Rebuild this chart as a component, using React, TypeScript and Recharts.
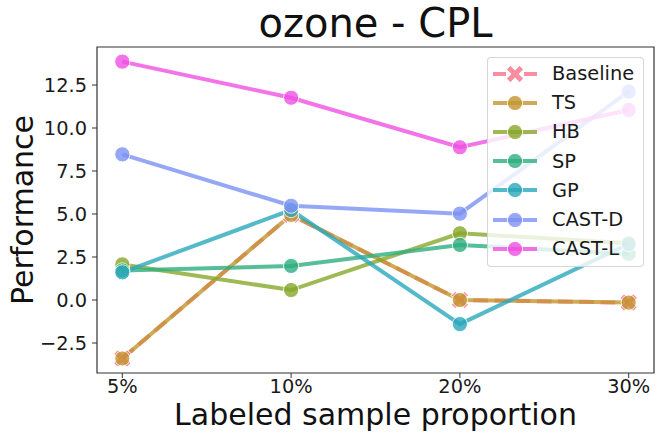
import React from "react";
import { CartesianGrid, Customized, Legend, Line, LineChart, ReferenceArea, XAxis, YAxis } from "recharts";

const categories = ["5%", "10%", "20%", "30%"];
const baseline = [-3.4, 4.95, 0.0, -0.15];
const ts = [-3.4, 4.95, 0.0, -0.15];
const hb = [2.07, 0.58, 3.88, 3.3];
const sp = [1.72, 1.98, 3.2, 2.68];
const gp = [1.61, 5.23, -1.4, 3.26];
const castD = [8.47, 5.48, 5.02, 12.11];
const castL = [13.86, 11.76, 8.88, 11.05];
const yTicks = [-2.5, 0, 2.5, 5, 7.5, 10, 12.5];

const series = [
  { key: "Baseline", values: baseline, color: "#f77189", marker: "x" },
  { key: "TS", values: ts, color: "#c3962f", marker: "o" },
  { key: "HB", values: hb, color: "#87a72a", marker: "o" },
  { key: "SP", values: sp, color: "#2eae80", marker: "o" },
  { key: "GP", values: gp, color: "#29a7bb", marker: "o" },
  { key: "CAST-D", values: castD, color: "#7c92f3", marker: "o" },
  { key: "CAST-L", values: castL, color: "#f050e4", marker: "o" },
];

const data = categories.map((c, i) => {
  const row: Record<string, number | string> = { x: i, label: c };
  series.forEach((s) => {
    row[s.key] = s.values[i];
  });
  return row;
});

const Y_MIN = -4.244;
const Y_MAX = 14.71;
const X_MIN = -0.15;
const X_MAX = 3.15;
const FONT = "'DejaVu Sans', sans-serif";
const ALPHA = 0.8;
const BASE_DASH = "14.8 6.4";

function xPath(a: number, w: number) {
  const p = [
    [-w, -a], [w, -a], [w, -w], [a, -w], [a, w], [w, w],
    [w, a], [-w, a], [-w, w], [-a, w], [-a, -w], [-w, -w],
  ];
  return "M" + p.map((q) => q.join(",")).join("L") + "Z";
}

function Marker({ cx, cy, color, kind }: { cx: number; cy: number; color: string; kind: string }) {
  if (kind === "x") {
    return (
      <path
        d={xPath(9.5, 3)}
        transform={`translate(${cx},${cy}) rotate(45)`}
        fill={color}
        stroke="#fff"
        strokeWidth={1}
        opacity={ALPHA}
      />
    );
  }
  return <circle cx={cx} cy={cy} r={7.6} fill={color} stroke="#fff" strokeWidth={1} opacity={ALPHA} />;
}

function LegendBox() {
  return (
    <div
      style={{
        width: 155,
        height: 207,
        background: "rgba(255,255,255,0.8)",
        border: "1px solid rgba(204,204,204,0.8)",
        borderRadius: 4,
        paddingTop: 1,
        boxSizing: "content-box",
      }}
    >
      {series.map((s) => (
        <div key={s.key} style={{ display: "flex", alignItems: "center", height: 29.2 }}>
          <svg width={60} height={28} style={{ flex: "none" }}>
            <line
              x1={5}
              x2={49}
              y1={14}
              y2={14}
              stroke={s.color}
              strokeWidth={4}
              strokeOpacity={ALPHA}
              strokeDasharray={s.marker === "x" ? "13 18 13" : undefined}
            />
            <Marker cx={27} cy={14} color={s.color} kind={s.marker} />
          </svg>
          <span style={{ fontFamily: FONT, fontSize: 19.4, color: "#1a1a1a", marginLeft: 4 }}>{s.key}</span>
        </div>
      ))}
    </div>
  );
}

function Title() {
  return (
    <text x={375.5} y={37} textAnchor="middle" fontFamily={FONT} fontSize={40} fill="#111">
      ozone - CPL
    </text>
  );
}

export default function App() {
  return (
    <div style={{ position: "absolute", left: 0, top: 0, width: 660, height: 439, background: "#fff" }}>
      <LineChart width={660} height={439} data={data} margin={{ top: 47, right: 6, bottom: 0, left: 0 }}>
        <CartesianGrid stroke="none" />
        <XAxis
          dataKey="x"
          type="number"
          domain={[X_MIN, X_MAX]}
          ticks={[0, 1, 2, 3]}
          allowDataOverflow
          tickFormatter={(v) => categories[v] ?? ""}
          height={66}
          tickSize={5}
          tickMargin={1}
          axisLine={false}
          tickLine={{ stroke: "#333" }}
          tick={{ fill: "#1a1a1a", fontSize: 19.4, fontFamily: FONT }}
          label={{
            value: "Labeled sample proportion",
            position: "insideBottom",
            offset: 14,
            fill: "#111",
            fontSize: 30,
            fontFamily: FONT,
          }}
        />
        <YAxis
          type="number"
          domain={[Y_MIN, Y_MAX]}
          ticks={yTicks}
          allowDataOverflow
          width={97}
          tickSize={5}
          tickMargin={5}
          axisLine={false}
          tickLine={{ stroke: "#333" }}
          tickFormatter={(v) => (v < 0 ? "\u2212" + Math.abs(v).toFixed(1) : v.toFixed(1))}
          tick={{ fill: "#1a1a1a", fontSize: 19.4, fontFamily: FONT }}
          label={{
            value: "Performance",
            angle: -90,
            position: "insideLeft",
            offset: 22,
            fill: "#111",
            fontSize: 30,
            fontFamily: FONT,
            style: { textAnchor: "middle" },
          }}
        />
        <ReferenceArea x1={X_MIN} x2={X_MAX} y1={Y_MIN} y2={Y_MAX} fill="none" stroke="#333" strokeWidth={1.2} />
        {series.map((s) => (
          <Line
            key={s.key}
            dataKey={s.key}
            type="linear"
            stroke={s.color}
            strokeWidth={4}
            strokeOpacity={ALPHA}
            strokeDasharray={s.marker === "x" ? BASE_DASH : undefined}
            isAnimationActive={false}
            activeDot={false}
            dot={(p: any) => <Marker key={`${s.key}-${p.index}`} cx={p.cx} cy={p.cy} color={s.color} kind={s.marker} />}
          />
        ))}
        <Customized component={Title} />
        <Legend
          layout="horizontal"
          verticalAlign="middle"
          align="center"
          content={() => <LegendBox />}
          wrapperStyle={{ left: 487, top: 57, width: 157, height: 209 }}
        />
      </LineChart>
    </div>
  );
}
